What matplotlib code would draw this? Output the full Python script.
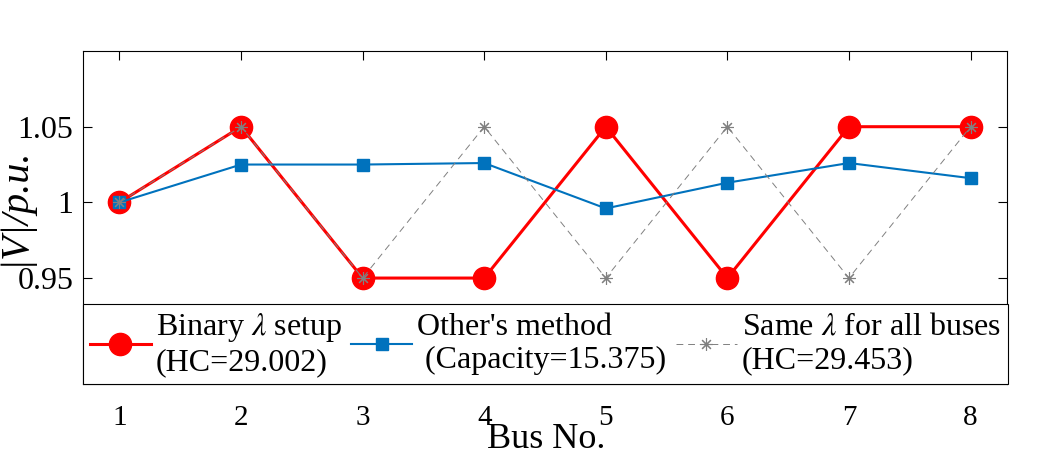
import matplotlib
matplotlib.use("Agg")
import matplotlib.pyplot as plt

plt.rcParams['font.family'] = ['Liberation Serif', 'DejaVu Serif']
plt.rcParams['mathtext.fontset'] = 'stix'

# data
bus = [1, 2, 3, 4, 5, 6, 7, 8]
binary_v = [1.0, 1.05, 0.95, 0.95, 1.05, 0.95, 1.05, 1.05]
other_v = [1.0, 1.025, 1.025, 1.026, 0.996, 1.013, 1.026, 1.016]
same_v = [1.0, 1.05, 0.95, 1.05, 0.95, 1.05, 0.95, 1.05]

labels = ['Binary $\\lambda$ setup\n(HC=29.002)',
          "Other's method\n (Capacity=15.375)",
          'Same $\\lambda$ for all buses\n(HC=29.453)']

fig = plt.figure(figsize=(10.56, 4.63), dpi=100)
ax = fig.add_axes([0.0786, 0.1706, 0.875, 0.7192])

ax.plot(bus, binary_v, '-o', color=(1, 0, 0), lw=2.2, ms=16, label=labels[0])
ax.plot(bus, other_v, '-s', color=(0, 0.447, 0.741), lw=1.5, ms=9,
        label=labels[1])
ax.plot(bus, same_v, '--', color=(0.5, 0.5, 0.5), lw=0.7, marker=(8, 2, 0),
        ms=9, mew=0.8, dashes=(7, 5), label=labels[2])

ax.set_xlim(0.7, 8.3)
ax.set_ylim(0.88, 1.1)
ax.set_xticks(bus)
ax.set_yticks([0.95, 1.0, 1.05])
ax.set_yticklabels(['0.95', '1', '1.05'])
ax.tick_params(direction='in', top=True, right=True, length=6.5, width=0.8)
ax.tick_params(axis='x', labelsize=21, pad=15)
ax.tick_params(axis='y', labelsize=23, pad=7)
for s in ax.spines.values():
    s.set_linewidth(0.8)

ax.set_xlabel('Bus No.', fontsize=26)
ax.xaxis.set_label_coords(0.501, -0.118)
ax.set_ylabel('|V|/p.u.', fontsize=29, fontstyle='italic')
ax.yaxis.set_label_coords(-0.054, 0.535)

leg = ax.legend(loc='lower left', bbox_to_anchor=(0, 0), ncol=3, fontsize=23,
                frameon=True, fancybox=False, borderaxespad=0,
                handlelength=1.9, handletextpad=0.16, borderpad=0.22,
                labelspacing=0.1, columnspacing=0.3)
leg.get_frame().set_edgecolor('black')
leg.get_frame().set_linewidth(0.8)
leg.get_frame().set_alpha(1)

fig.savefig('out.png', dpi=100)
